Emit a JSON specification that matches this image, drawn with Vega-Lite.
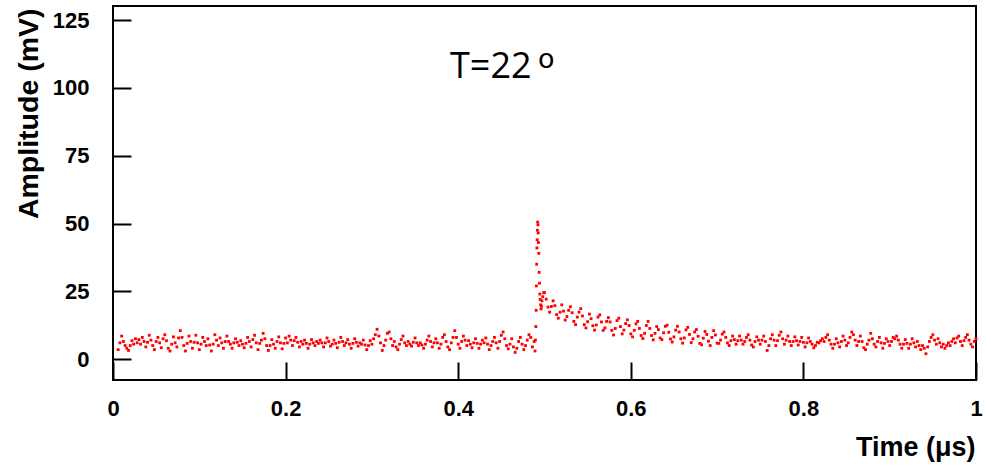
{
  "$schema": "https://vega.github.io/schema/vega-lite/v6.json",
  "width": 863,
  "height": 374,
  "autosize": {"type": "none"},
  "padding": {"left": 113, "top": 6, "right": 10, "bottom": 85},
  "background": "white",
  "config": {
    "view": {"stroke": "black", "strokeWidth": 2},
    "axis": {"grid": false, "domain": false, "tickColor": "black", "tickWidth": 2, "tickSize": -18, "labelFlush": false, "labelColor": "black", "labelFont": "Liberation Sans", "labelFontWeight": "bold", "labelFontSize": 22, "titleColor": "black", "titleFont": "Liberation Sans", "titleFontWeight": "bold", "titleFontSize": 27}
  },
  "layer": [
    {
      "data": {"values": [
{"t":0.006,"a":3.5},{"t":0.008,"a":6.0},{"t":0.010,"a":8.5},{"t":0.012,"a":6.5},{"t":0.014,"a":5.0},{"t":0.016,"a":4.0},{"t":0.018,"a":3.2},{"t":0.020,"a":5.0},{"t":0.022,"a":6.8},{"t":0.024,"a":5.5},
{"t":0.026,"a":7.5},{"t":0.028,"a":6.0},{"t":0.030,"a":7.2},{"t":0.032,"a":5.5},{"t":0.034,"a":8.0},{"t":0.036,"a":6.5},{"t":0.038,"a":4.5},{"t":0.040,"a":6.2},{"t":0.042,"a":8.8},{"t":0.044,"a":7.0},
{"t":0.046,"a":5.0},{"t":0.048,"a":3.5},{"t":0.050,"a":6.5},{"t":0.052,"a":8.0},{"t":0.054,"a":6.0},{"t":0.056,"a":4.2},{"t":0.058,"a":7.5},{"t":0.060,"a":9.0},{"t":0.062,"a":6.8},{"t":0.064,"a":4.0},
{"t":0.066,"a":3.0},{"t":0.068,"a":5.5},{"t":0.070,"a":8.2},{"t":0.072,"a":6.0},{"t":0.074,"a":4.5},{"t":0.076,"a":7.8},{"t":0.078,"a":10.5},{"t":0.080,"a":8.0},{"t":0.082,"a":5.0},{"t":0.084,"a":3.0},
{"t":0.086,"a":5.8},{"t":0.088,"a":8.5},{"t":0.090,"a":6.5},{"t":0.092,"a":4.0},{"t":0.094,"a":6.2},{"t":0.096,"a":8.8},{"t":0.098,"a":6.0},{"t":0.100,"a":3.5},{"t":0.102,"a":5.5},{"t":0.104,"a":8.0},
{"t":0.106,"a":6.5},{"t":0.108,"a":5.0},{"t":0.110,"a":7.5},{"t":0.112,"a":5.2},{"t":0.114,"a":3.0},{"t":0.116,"a":5.5},{"t":0.118,"a":9.0},{"t":0.120,"a":7.0},{"t":0.122,"a":5.0},{"t":0.124,"a":7.8},
{"t":0.126,"a":6.0},{"t":0.128,"a":4.0},{"t":0.130,"a":6.5},{"t":0.132,"a":8.5},{"t":0.134,"a":6.5},{"t":0.136,"a":5.5},{"t":0.138,"a":4.0},{"t":0.140,"a":6.0},{"t":0.142,"a":7.5},{"t":0.144,"a":6.2},
{"t":0.146,"a":5.0},{"t":0.148,"a":6.8},{"t":0.150,"a":5.5},{"t":0.152,"a":4.2},{"t":0.154,"a":5.8},{"t":0.156,"a":8.0},{"t":0.158,"a":6.5},{"t":0.160,"a":4.5},{"t":0.162,"a":7.2},{"t":0.164,"a":8.8},
{"t":0.166,"a":6.0},{"t":0.168,"a":3.5},{"t":0.170,"a":5.8},{"t":0.172,"a":7.0},{"t":0.174,"a":9.5},{"t":0.176,"a":7.5},{"t":0.178,"a":5.0},{"t":0.180,"a":3.2},{"t":0.182,"a":5.0},{"t":0.184,"a":7.2},
{"t":0.186,"a":5.5},{"t":0.188,"a":4.0},{"t":0.190,"a":6.5},{"t":0.192,"a":8.2},{"t":0.194,"a":6.0},{"t":0.196,"a":3.8},{"t":0.198,"a":5.8},{"t":0.200,"a":7.8},{"t":0.202,"a":6.0},{"t":0.204,"a":8.5},
{"t":0.206,"a":7.0},{"t":0.208,"a":5.0},{"t":0.210,"a":6.8},{"t":0.212,"a":8.0},{"t":0.214,"a":6.2},{"t":0.216,"a":4.5},{"t":0.218,"a":6.5},{"t":0.220,"a":5.5},{"t":0.222,"a":7.0},{"t":0.224,"a":5.8},
{"t":0.226,"a":4.0},{"t":0.228,"a":5.5},{"t":0.230,"a":7.2},{"t":0.232,"a":6.0},{"t":0.234,"a":5.0},{"t":0.236,"a":6.5},{"t":0.238,"a":5.8},{"t":0.240,"a":7.0},{"t":0.242,"a":6.0},{"t":0.244,"a":4.5},
{"t":0.246,"a":6.0},{"t":0.248,"a":7.8},{"t":0.250,"a":6.5},{"t":0.252,"a":4.8},{"t":0.254,"a":5.5},{"t":0.256,"a":7.0},{"t":0.258,"a":5.8},{"t":0.260,"a":4.2},{"t":0.262,"a":6.2},{"t":0.264,"a":8.0},
{"t":0.266,"a":6.5},{"t":0.268,"a":5.0},{"t":0.270,"a":6.0},{"t":0.272,"a":7.2},{"t":0.274,"a":5.5},{"t":0.276,"a":4.0},{"t":0.278,"a":5.8},{"t":0.280,"a":7.5},{"t":0.282,"a":6.2},{"t":0.284,"a":4.8},
{"t":0.286,"a":6.0},{"t":0.288,"a":5.5},{"t":0.290,"a":7.0},{"t":0.292,"a":5.2},{"t":0.294,"a":3.5},{"t":0.296,"a":5.0},{"t":0.298,"a":6.8},{"t":0.300,"a":5.5},{"t":0.302,"a":7.5},{"t":0.304,"a":9.0},
{"t":0.306,"a":11.0},{"t":0.308,"a":8.5},{"t":0.310,"a":6.0},{"t":0.312,"a":3.2},{"t":0.314,"a":5.0},{"t":0.316,"a":7.0},{"t":0.318,"a":9.5},{"t":0.320,"a":10.0},{"t":0.322,"a":7.5},{"t":0.324,"a":5.0},
{"t":0.326,"a":6.5},{"t":0.328,"a":4.5},{"t":0.330,"a":3.5},{"t":0.332,"a":5.5},{"t":0.334,"a":7.2},{"t":0.336,"a":8.5},{"t":0.338,"a":6.0},{"t":0.340,"a":5.0},{"t":0.342,"a":6.5},{"t":0.344,"a":5.5},
{"t":0.346,"a":4.8},{"t":0.348,"a":6.2},{"t":0.350,"a":7.8},{"t":0.352,"a":6.0},{"t":0.354,"a":5.0},{"t":0.356,"a":6.0},{"t":0.358,"a":5.2},{"t":0.360,"a":4.0},{"t":0.362,"a":5.5},{"t":0.364,"a":7.0},
{"t":0.366,"a":8.5},{"t":0.368,"a":6.5},{"t":0.370,"a":4.5},{"t":0.372,"a":6.0},{"t":0.374,"a":7.5},{"t":0.376,"a":6.0},{"t":0.378,"a":4.0},{"t":0.380,"a":5.5},{"t":0.382,"a":8.0},{"t":0.384,"a":9.0},
{"t":0.386,"a":6.5},{"t":0.388,"a":4.5},{"t":0.390,"a":3.5},{"t":0.392,"a":6.0},{"t":0.394,"a":8.0},{"t":0.396,"a":10.5},{"t":0.398,"a":8.0},{"t":0.400,"a":5.5},{"t":0.402,"a":4.0},{"t":0.404,"a":6.5},
{"t":0.406,"a":8.5},{"t":0.408,"a":7.0},{"t":0.410,"a":5.0},{"t":0.412,"a":6.8},{"t":0.414,"a":5.5},{"t":0.416,"a":4.2},{"t":0.418,"a":6.0},{"t":0.420,"a":7.5},{"t":0.422,"a":5.8},{"t":0.424,"a":4.0},
{"t":0.426,"a":5.5},{"t":0.428,"a":7.0},{"t":0.430,"a":6.0},{"t":0.432,"a":7.8},{"t":0.434,"a":5.5},{"t":0.436,"a":3.5},{"t":0.438,"a":5.0},{"t":0.440,"a":6.5},{"t":0.442,"a":8.0},{"t":0.444,"a":6.0},
{"t":0.446,"a":4.0},{"t":0.448,"a":6.5},{"t":0.450,"a":8.8},{"t":0.452,"a":10.0},{"t":0.454,"a":7.5},{"t":0.456,"a":5.0},{"t":0.458,"a":3.8},{"t":0.460,"a":5.5},{"t":0.462,"a":7.5},{"t":0.464,"a":4.5},
{"t":0.466,"a":2.5},{"t":0.468,"a":4.0},{"t":0.470,"a":6.5},{"t":0.472,"a":8.0},{"t":0.474,"a":5.5},{"t":0.476,"a":3.5},{"t":0.478,"a":5.0},{"t":0.480,"a":7.0},{"t":0.482,"a":9.0},{"t":0.484,"a":8.0},
{"t":0.486,"a":4.5},{"t":0.488,"a":6.5},
{"t":0.4890,"a":3.0},{"t":0.4895,"a":7.0},{"t":0.4900,"a":12.0},{"t":0.4903,"a":18.0},{"t":0.4906,"a":27.0},{"t":0.4909,"a":35.0},{"t":0.4912,"a":41.0},{"t":0.4915,"a":44.0},{"t":0.4918,"a":47.5},{"t":0.4921,"a":50.5},
{"t":0.4924,"a":49.5},{"t":0.4927,"a":46.5},{"t":0.4930,"a":43.0},{"t":0.4934,"a":39.0},{"t":0.4938,"a":32.0},{"t":0.4942,"a":28.0},{"t":0.4946,"a":24.0},{"t":0.4950,"a":22.0},{"t":0.4955,"a":20.0},{"t":0.4960,"a":18.5},
{"t":0.4965,"a":19.5},{"t":0.497,"a":21.5},{"t":0.498,"a":23.0},{"t":0.499,"a":24.5},
{"t":0.500,"a":24.5},{"t":0.502,"a":22.1},{"t":0.504,"a":19.2},{"t":0.506,"a":17.3},{"t":0.508,"a":19.4},{"t":0.510,"a":21.5},{"t":0.512,"a":19.7},{"t":0.514,"a":16.4},{"t":0.516,"a":15.1},{"t":0.518,"a":17.3},
{"t":0.520,"a":20.0},{"t":0.522,"a":17.7},{"t":0.524,"a":14.4},{"t":0.526,"a":15.7},{"t":0.528,"a":18.0},{"t":0.530,"a":19.3},{"t":0.532,"a":17.1},{"t":0.534,"a":13.9},{"t":0.536,"a":12.7},{"t":0.538,"a":15.5},
{"t":0.540,"a":17.3},{"t":0.542,"a":18.6},{"t":0.544,"a":15.9},{"t":0.546,"a":12.7},{"t":0.548,"a":11.5},{"t":0.550,"a":13.8},{"t":0.552,"a":16.6},{"t":0.554,"a":14.9},{"t":0.556,"a":12.3},{"t":0.558,"a":10.7},
{"t":0.560,"a":12.6},{"t":0.562,"a":15.5},{"t":0.564,"a":16.3},{"t":0.566,"a":13.7},{"t":0.568,"a":10.6},{"t":0.570,"a":11.5},{"t":0.572,"a":13.9},{"t":0.574,"a":15.3},{"t":0.576,"a":13.7},{"t":0.578,"a":10.6},
{"t":0.580,"a":8.9},{"t":0.582,"a":11.3},{"t":0.584,"a":14.2},{"t":0.586,"a":15.1},{"t":0.588,"a":12.0},{"t":0.590,"a":9.3},{"t":0.592,"a":10.7},{"t":0.594,"a":13.1},{"t":0.596,"a":14.5},{"t":0.598,"a":12.4},
{"t":0.600,"a":9.3},{"t":0.602,"a":8.2},{"t":0.604,"a":10.6},{"t":0.606,"a":13.0},{"t":0.608,"a":13.9},{"t":0.610,"a":11.3},{"t":0.612,"a":8.7},{"t":0.614,"a":7.6},{"t":0.616,"a":9.5},{"t":0.618,"a":12.4},
{"t":0.620,"a":13.9},{"t":0.622,"a":11.3},{"t":0.624,"a":8.7},{"t":0.626,"a":7.1},{"t":0.628,"a":9.5},{"t":0.630,"a":12.0},{"t":0.632,"a":10.9},{"t":0.634,"a":7.8},{"t":0.636,"a":7.2},{"t":0.638,"a":9.7},
{"t":0.640,"a":12.1},{"t":0.642,"a":12.5},{"t":0.644,"a":9.9},{"t":0.646,"a":7.4},{"t":0.648,"a":6.3},{"t":0.650,"a":8.2},{"t":0.652,"a":10.7},{"t":0.654,"a":12.1},{"t":0.656,"a":10.0},{"t":0.658,"a":7.5},
{"t":0.660,"a":5.9},{"t":0.662,"a":7.8},{"t":0.664,"a":10.8},{"t":0.666,"a":11.7},{"t":0.668,"a":9.1},{"t":0.670,"a":6.1},{"t":0.672,"a":7.5},{"t":0.674,"a":10.0},{"t":0.676,"a":10.9},{"t":0.678,"a":8.4},
{"t":0.680,"a":5.8},{"t":0.682,"a":5.3},{"t":0.684,"a":7.7},{"t":0.686,"a":10.2},{"t":0.688,"a":9.1},{"t":0.690,"a":6.6},{"t":0.692,"a":5.0},{"t":0.694,"a":8.0},{"t":0.696,"a":10.5},{"t":0.698,"a":8.9},
{"t":0.700,"a":5.9},{"t":0.702,"a":5.8},{"t":0.704,"a":7.0},{"t":0.706,"a":9.2},{"t":0.708,"a":10.0},{"t":0.710,"a":8.0},{"t":0.712,"a":6.0},{"t":0.714,"a":5.0},{"t":0.716,"a":6.8},{"t":0.718,"a":8.5},
{"t":0.720,"a":7.2},{"t":0.722,"a":5.5},{"t":0.724,"a":6.8},{"t":0.726,"a":8.5},{"t":0.728,"a":7.0},{"t":0.730,"a":5.5},{"t":0.732,"a":6.5},{"t":0.734,"a":8.0},{"t":0.736,"a":9.0},{"t":0.738,"a":7.0},
{"t":0.740,"a":5.2},{"t":0.742,"a":4.5},{"t":0.744,"a":6.5},{"t":0.746,"a":8.2},{"t":0.748,"a":7.0},{"t":0.750,"a":5.5},{"t":0.752,"a":7.0},{"t":0.754,"a":8.5},{"t":0.756,"a":6.5},{"t":0.758,"a":3.2},
{"t":0.760,"a":5.0},{"t":0.762,"a":7.5},{"t":0.764,"a":9.0},{"t":0.766,"a":7.0},{"t":0.768,"a":5.0},{"t":0.770,"a":6.8},{"t":0.772,"a":8.8},{"t":0.774,"a":10.0},{"t":0.776,"a":7.5},{"t":0.778,"a":5.5},
{"t":0.780,"a":7.0},{"t":0.782,"a":8.5},{"t":0.784,"a":6.5},{"t":0.786,"a":5.0},{"t":0.788,"a":6.5},{"t":0.790,"a":8.2},{"t":0.792,"a":6.8},{"t":0.794,"a":5.2},{"t":0.796,"a":6.5},{"t":0.798,"a":8.0},
{"t":0.800,"a":6.2},{"t":0.802,"a":4.5},{"t":0.804,"a":6.0},{"t":0.806,"a":7.8},{"t":0.808,"a":6.5},{"t":0.810,"a":5.5},{"t":0.812,"a":4.2},{"t":0.814,"a":5.0},{"t":0.816,"a":6.2},{"t":0.818,"a":6.0},
{"t":0.820,"a":6.8},{"t":0.822,"a":7.5},{"t":0.824,"a":6.5},{"t":0.826,"a":8.0},{"t":0.828,"a":9.0},{"t":0.830,"a":7.0},{"t":0.832,"a":5.5},{"t":0.834,"a":4.0},{"t":0.836,"a":5.5},{"t":0.838,"a":7.5},
{"t":0.840,"a":6.0},{"t":0.842,"a":4.5},{"t":0.844,"a":6.5},{"t":0.846,"a":8.5},{"t":0.848,"a":7.0},{"t":0.850,"a":5.0},{"t":0.852,"a":6.0},{"t":0.854,"a":8.0},{"t":0.856,"a":10.0},{"t":0.858,"a":9.0},
{"t":0.860,"a":7.0},{"t":0.862,"a":5.0},{"t":0.864,"a":6.5},{"t":0.866,"a":8.5},{"t":0.868,"a":6.5},{"t":0.870,"a":4.2},{"t":0.872,"a":3.5},{"t":0.874,"a":5.5},{"t":0.876,"a":7.0},{"t":0.878,"a":9.5},
{"t":0.880,"a":7.5},{"t":0.882,"a":5.5},{"t":0.884,"a":4.5},{"t":0.886,"a":6.5},{"t":0.888,"a":8.0},{"t":0.890,"a":6.0},{"t":0.892,"a":4.0},{"t":0.894,"a":5.8},{"t":0.896,"a":7.5},{"t":0.898,"a":6.5},
{"t":0.900,"a":5.0},{"t":0.902,"a":6.5},{"t":0.904,"a":8.0},{"t":0.906,"a":7.5},{"t":0.908,"a":8.5},{"t":0.910,"a":7.0},{"t":0.912,"a":5.5},{"t":0.914,"a":4.0},{"t":0.916,"a":5.5},{"t":0.918,"a":7.2},
{"t":0.920,"a":5.8},{"t":0.922,"a":4.0},{"t":0.924,"a":5.5},{"t":0.926,"a":7.5},{"t":0.928,"a":6.0},{"t":0.930,"a":4.5},{"t":0.932,"a":6.5},{"t":0.934,"a":5.0},{"t":0.936,"a":3.5},{"t":0.938,"a":5.0},
{"t":0.940,"a":4.0},{"t":0.942,"a":2.0},{"t":0.944,"a":4.5},{"t":0.946,"a":6.5},{"t":0.948,"a":8.0},{"t":0.950,"a":9.0},{"t":0.952,"a":7.0},{"t":0.954,"a":5.5},{"t":0.956,"a":7.5},{"t":0.958,"a":6.0},
{"t":0.960,"a":4.5},{"t":0.962,"a":5.5},{"t":0.964,"a":4.0},{"t":0.966,"a":5.0},{"t":0.968,"a":6.0},{"t":0.970,"a":5.0},{"t":0.972,"a":6.5},{"t":0.974,"a":7.5},{"t":0.976,"a":6.0},{"t":0.978,"a":7.8},
{"t":0.980,"a":8.5},{"t":0.982,"a":6.5},{"t":0.984,"a":5.0},{"t":0.986,"a":6.8},{"t":0.988,"a":8.0},{"t":0.990,"a":9.0},{"t":0.992,"a":7.0},{"t":0.994,"a":5.5},{"t":0.996,"a":4.5},{"t":0.998,"a":6.5},
{"t":1.000,"a":7.5}
      ]},
      "mark": {"type": "point", "shape": "square", "filled": true, "size": 8, "color": "#ff0000", "opacity": 1, "strokeWidth": 0},
      "encoding": {
        "x": {"field": "t", "type": "quantitative", "scale": {"domain": [0, 1], "nice": false, "zero": false},
          "axis": {"values": [0, 0.2, 0.4, 0.6, 0.8, 1], "format": "~g", "labelPadding": 36, "title": "Time (\u03bcs)", "titleX": 862, "titleY": 75, "titleAlign": "right", "titleBaseline": "alphabetic"}},
        "y": {"field": "a", "type": "quantitative", "scale": {"domain": [-7.7, 130.2], "nice": false, "zero": false},
          "axis": {"values": [0, 25, 50, 75, 100, 125], "format": "d", "labelPadding": 42, "title": "Amplitude (mV)", "titleFontSize": 28.5, "titleX": -76, "titleY": 2, "titleAngle": -90, "titleAlign": "right", "titleBaseline": "alphabetic"}}
      }
    },
    {
      "data": {"values": [{}]},
      "mark": {"type": "text", "text": "T=22", "font": "Open Sans", "fontSize": 36, "align": "left", "baseline": "alphabetic", "color": "black"},
      "encoding": {"x": {"datum": 0.3905}, "y": {"datum": 103.6}}
    },
    {
      "data": {"values": [{}]},
      "mark": {"type": "text", "text": "o", "font": "DejaVu Sans", "fontSize": 27, "align": "left", "baseline": "alphabetic", "color": "black"},
      "encoding": {"x": {"datum": 0.4925}, "y": {"datum": 107.3}}
    }
  ]
}
